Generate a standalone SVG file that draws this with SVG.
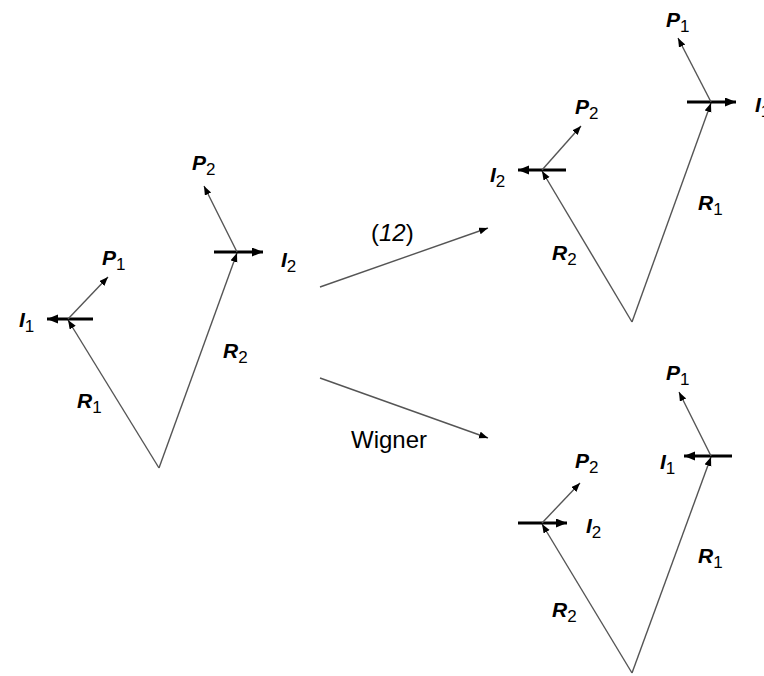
<svg xmlns="http://www.w3.org/2000/svg" width="764" height="676" viewBox="0 0 764 676">
<style>
.thin{stroke:#555;stroke-width:1.4;fill:none;marker-end:url(#ah)}
.thick{stroke:#000;stroke-width:3.2;fill:none;marker-end:url(#ahb)}
.lab{font-family:"Liberation Sans",Arial,sans-serif;font-size:21px;font-weight:bold;font-style:italic;fill:#000}
.lab tspan{font-size:17px;font-weight:normal;font-style:normal}
.cap{font-family:"Liberation Sans",Arial,sans-serif;font-size:24px;fill:#000}
</style>
<defs>
<marker id="ah" markerUnits="userSpaceOnUse" markerWidth="10" markerHeight="8" refX="9" refY="3.5" orient="auto">
<path d="M0,0 L9,3.5 L0,7 z" fill="#000"/>
</marker>
<marker id="ahb" markerUnits="userSpaceOnUse" markerWidth="12" markerHeight="10" refX="11" refY="4.5" orient="auto">
<path d="M0,0 L11,4.5 L0,9 z" fill="#000"/>
</marker>
</defs>
<g id="left">
<line class="thin" x1="159" y1="468" x2="68" y2="320"/>
<line class="thin" x1="159" y1="468" x2="237" y2="253"/>
<line class="thick" x1="93" y1="319" x2="47" y2="319"/>
<line class="thin" x1="68" y1="319" x2="108" y2="277"/>
<line class="thick" x1="214" y1="252" x2="263" y2="252"/>
<line class="thin" x1="237" y1="252" x2="204" y2="186"/>
<text class="lab" x="192" y="170">P<tspan dy="5">2</tspan></text>
<text class="lab" x="102" y="265">P<tspan dy="5">1</tspan></text>
<text class="lab" x="19" y="327">I<tspan dy="5">1</tspan></text>
<text class="lab" x="281" y="267">I<tspan dy="5">2</tspan></text>
<text class="lab" x="223" y="358">R<tspan dy="5">2</tspan></text>
<text class="lab" x="77" y="408">R<tspan dy="5">1</tspan></text>
</g>
<g id="topright">
<line class="thin" x1="632" y1="322" x2="542" y2="171"/>
<line class="thin" x1="632" y1="322" x2="711" y2="103"/>
<line class="thick" x1="566" y1="170" x2="518" y2="170"/>
<line class="thin" x1="542" y1="170" x2="581" y2="126"/>
<line class="thick" x1="687" y1="102" x2="736" y2="102"/>
<line class="thin" x1="711" y1="102" x2="678" y2="38"/>
<text class="lab" x="666" y="27">P<tspan dy="5">1</tspan></text>
<text class="lab" x="575" y="114">P<tspan dy="5">2</tspan></text>
<text class="lab" x="490" y="182">I<tspan dy="5">2</tspan></text>
<text class="lab" x="755" y="112">I<tspan dy="5">1</tspan></text>
<text class="lab" x="698" y="210">R<tspan dy="5">1</tspan></text>
<text class="lab" x="552" y="260">R<tspan dy="5">2</tspan></text>
</g>
<g id="bottomright">
<line class="thin" x1="632" y1="673" x2="542" y2="524"/>
<line class="thin" x1="632" y1="673" x2="711" y2="457"/>
<line class="thick" x1="518" y1="523" x2="567" y2="523"/>
<line class="thin" x1="542" y1="523" x2="580" y2="483"/>
<line class="thick" x1="732" y1="456" x2="684" y2="456"/>
<line class="thin" x1="711" y1="456" x2="679" y2="392"/>
<text class="lab" x="666" y="380">P<tspan dy="5">1</tspan></text>
<text class="lab" x="660" y="469">I<tspan dy="5">1</tspan></text>
<text class="lab" x="575" y="468">P<tspan dy="5">2</tspan></text>
<text class="lab" x="586" y="533">I<tspan dy="5">2</tspan></text>
<text class="lab" x="698" y="563">R<tspan dy="5">1</tspan></text>
<text class="lab" x="552" y="617">R<tspan dy="5">2</tspan></text>
</g>
<g id="connectors">
<line class="thin" x1="320" y1="287" x2="488" y2="228"/>
<line class="thin" x1="320" y1="378" x2="488" y2="438"/>
<text class="cap" x="371" y="241">(<tspan font-style="italic">12</tspan>)</text>
<text class="cap" x="351" y="448">Wigner</text>
</g>
</svg>
